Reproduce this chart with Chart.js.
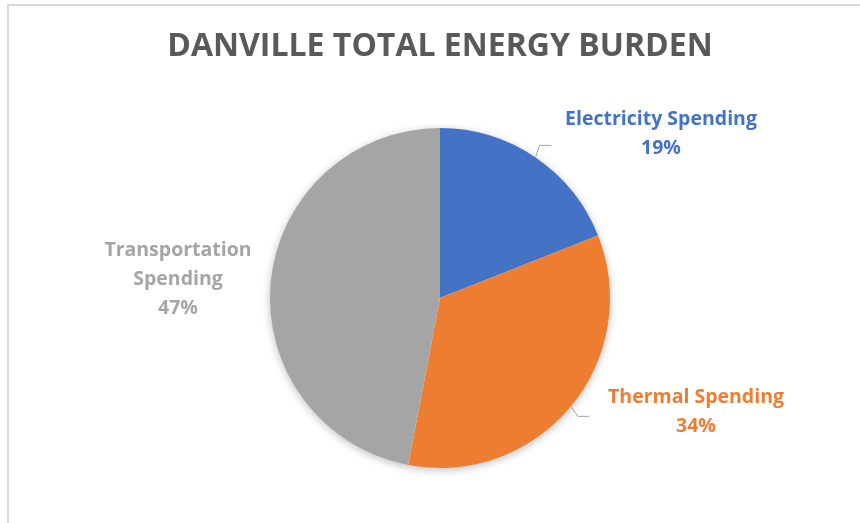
<!DOCTYPE html>
<html>
<head>
<meta charset="utf-8">
<title>Danville Total Energy Burden</title>
<script src="https://cdn.jsdelivr.net/npm/chart.js@4/dist/chart.umd.min.js"></script>
<style>
    html, body { margin: 0; padding: 0; background: #ffffff; }
    #wrap { position: relative; width: 860px; height: 523px; }
    #frame {
        position: absolute; left: 7px; top: 4px; right: -4px; bottom: -4px;
        border-left: 2px solid #d9d9d9; border-top: 2px solid #d9d9d9;
        pointer-events: none;
    }
</style>
</head>
<body>
<div id="wrap">
    <canvas id="chart"></canvas>
    <div id="frame"></div>
</div>
<script>
// ─── Data ───────────────────────────────────────────────────────────────────
const categories = ["Electricity Spending", "Thermal Spending", "Transportation Spending"];
const shares     = [19, 34, 47];
const colors     = ["#4472C4", "#ED7D31", "#A5A5A5"];

// label text lines (Excel wraps the long one)
const labelLines = [
    ["Electricity Spending"],
    ["Thermal Spending"],
    ["Transportation", "Spending"],
];

// label placement relative to pie centre, plus leader line bends
const LABEL_POS = [
    { dx: 221, dy: -164, leader: [[4, -12], [16, -12]] },
    { dx: 256, dy: 114,  leader: [[7, 10], [18, 10]] },
    { dx: -262, dy: -19, leader: null },
];

const LABEL_FONT = "bold 19.5px 'Open Sans'";
const LINE_GAP = 29;

// ─── Plugins ────────────────────────────────────────────────────────────────
const pieShadow = {
    id: "pieShadow",
    beforeDatasetsDraw(chart) {
        const arc = chart.getDatasetMeta(0).data[0];
        if (!arc) return;
        const ctx = chart.ctx;
        ctx.save();
        ctx.shadowColor = "rgba(0,0,0,0.28)";
        ctx.shadowBlur = 10;
        ctx.shadowOffsetY = 2;
        ctx.fillStyle = "#ffffff";
        ctx.beginPath();
        ctx.arc(arc.x, arc.y, arc.outerRadius - 0.5, 0, Math.PI * 2);
        ctx.fill();
        ctx.restore();
    },
};

const sliceLabels = {
    id: "sliceLabels",
    afterDatasetsDraw(chart) {
        const ctx = chart.ctx;
        const meta = chart.getDatasetMeta(0);
        ctx.save();
        meta.data.forEach((arc, i) => {
            const pos = LABEL_POS[i];
            const mid = (arc.startAngle + arc.endAngle) / 2;

            // leader line
            if (pos.leader) {
                const sx = arc.x + Math.cos(mid) * arc.outerRadius;
                const sy = arc.y + Math.sin(mid) * arc.outerRadius;
                ctx.strokeStyle = "#a6a6a6";
                ctx.lineWidth = 1;
                ctx.beginPath();
                ctx.moveTo(sx, sy);
                pos.leader.forEach(p => ctx.lineTo(sx + p[0], sy + p[1]));
                ctx.stroke();
            }

            // text block
            const lines = labelLines[i].concat([shares[i] + "%"]);
            const cx = arc.x + pos.dx;
            const top = arc.y + pos.dy - (lines.length - 1) * LINE_GAP / 2;
            ctx.fillStyle = colors[i];
            ctx.font = LABEL_FONT;
            ctx.textAlign = "center";
            ctx.textBaseline = "middle";
            lines.forEach((t, k) => ctx.fillText(t, cx, top + k * LINE_GAP));
        });
        ctx.restore();
    },
};

// ─── Chart ──────────────────────────────────────────────────────────────────
const ctx = document.getElementById("chart").getContext("2d");

new Chart(ctx, {
    type: "pie",
    data: {
        labels: categories,
        datasets: [{
            data: shares,
            backgroundColor: colors,
            borderWidth: 0,
        }],
    },
    options: {
        responsive: true,
        maintainAspectRatio: false,
        animation: false,
        layout: { padding: { top: 0, bottom: 55, left: 20, right: 0 } },
        plugins: {
            legend: { display: false },
            tooltip: { enabled: false },
            title: {
                display: true,
                text: "DANVILLE TOTAL ENERGY BURDEN",
                color: "#595959",
                font: { family: "'Open Sans'", size: 32, weight: "bold", lineHeight: 1.2 },
                padding: { top: 28, bottom: 61.6 },
            },
        },
    },
    plugins: [pieShadow, sliceLabels],
});
</script>
</body>
</html>
